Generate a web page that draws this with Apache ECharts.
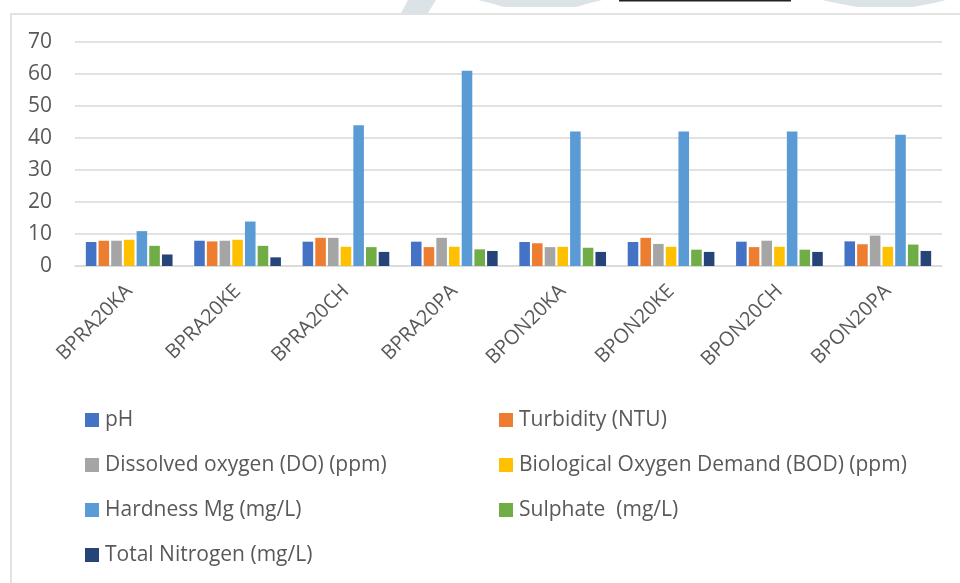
<!DOCTYPE html>
<html>
<head>
<meta charset="utf-8">
<script src="https://cdn.jsdelivr.net/npm/echarts@6/dist/echarts.min.js"></script>
<style>
html,body{margin:0;padding:0;background:#fff;}
#c{width:960px;height:583px;}
</style>
</head>
<body>
<div id="c"></div>
<script>
const categories = ['BPRA20KA','BPRA20KE','BPRA20CH','BPRA20PA','BPON20KA','BPON20KE','BPON20CH','BPON20PA'];
const seriesNames = ['pH','Turbidity (NTU)','Dissolved oxygen (DO) (ppm)','Biological Oxygen Demand (BOD) (ppm)','Hardness Mg (mg/L)','Sulphate  (mg/L)','Total Nitrogen (mg/L)'];
const colors = ['#4472C4','#ED7D31','#A5A5A5','#FFC000','#5B9BD5','#70AD47','#264478'];
const pH        = [7.5, 7.9, 7.6, 7.6, 7.5, 7.5, 7.6, 7.7];
const turbidity = [7.9, 7.7, 8.8, 5.9, 7.1, 8.8, 5.9, 6.8];
const dissolvedO= [7.9, 7.9, 8.8, 8.8, 5.9, 6.9, 7.9, 9.5];
const bod       = [8.2, 8.2, 6.0, 6.0, 6.0, 6.0, 6.0, 6.0];
const hardness  = [10.9, 13.9, 44, 61, 42, 42, 42, 41];
const sulphate  = [6.3, 6.3, 5.9, 5.2, 5.7, 5.1, 5.1, 6.7];
const nitrogen  = [3.6, 2.7, 4.4, 4.7, 4.4, 4.4, 4.4, 4.7];
const yTicks = [0, 10, 20, 30, 40, 50, 60, 70];

const values = [pH, turbidity, dissolvedO, bod, hardness, sulphate, nitrogen];
const FONT = '"Open Sans", sans-serif';
const TXT = '#595959';

// legend placement: two columns
const legendPos = [
  [85, 420], [499, 420],
  [85, 465], [499, 465],
  [85, 510], [499, 510],
  [85, 555]
];

const chart = echarts.init(document.getElementById('c'));
chart.setOption({
  animation: false,
  color: colors,
  grid: { left: 75, right: 18, top: 42, height: 224, containLabel: false },
  xAxis: {
    type: 'category',
    data: categories,
    axisLine: { show: true, lineStyle: { color: '#d9d9d9', width: 1.5 } },
    axisTick: { show: false },
    axisLabel: { rotate: 45, color: TXT, fontFamily: FONT, fontSize: 20, margin: 22, interval: 0 }
  },
  yAxis: {
    type: 'value',
    min: 0, max: 70, interval: 10,
    axisLine: { show: false },
    axisTick: { show: false },
    axisLabel: { color: TXT, fontFamily: FONT, fontSize: 21, margin: 23,
      formatter: v => yTicks.includes(v) ? String(v) : '' },
    splitLine: { lineStyle: { color: '#d9d9d9', width: 1.5 } }
  },
  legend: seriesNames.map((n, i) => ({
    data: [n],
    left: legendPos[i][0],
    top: legendPos[i][1] - 11,
    itemWidth: 14, itemHeight: 14, itemGap: 0,
    icon: 'rect',
    selectedMode: false,
    padding: 0,
    textStyle: { color: TXT, fontFamily: FONT, fontSize: 21, lineHeight: 22, padding: [0,0,0,1] }
  })),
  series: seriesNames.map((n, i) => ({
    name: n,
    type: 'bar',
    data: values[i],
    barGap: '20%',
    barCategoryGap: '20%',
    itemStyle: { color: colors[i] }
  })),
  graphic: [
    { type: 'rect', shape: { x: 11, y: 14, width: 960, height: 600 }, style: { fill: 'none', stroke: '#d9d9d9', lineWidth: 1.5 }, silent: true },
    { type: 'polygon', shape: { points: [[408,0],[436,0],[428,13],[401,13]] }, style: { fill: '#dce3e6' }, silent: true },
    { type: 'polygon', shape: { points: [[478,0],[602,0],[590,3],[576,7],[504,7],[490,3]] }, style: { fill: '#dce3e6' }, silent: true },
    { type: 'polygon', shape: { points: [[822,0],[946,0],[934,3],[913,7],[857,7],[836,3]] }, style: { fill: '#dce3e6' }, silent: true },
    { type: 'rect', shape: { x: 619, y: 0, width: 172, height: 1.5 }, style: { fill: '#222' }, silent: true }
  ]
});
</script>
</body>
</html>
